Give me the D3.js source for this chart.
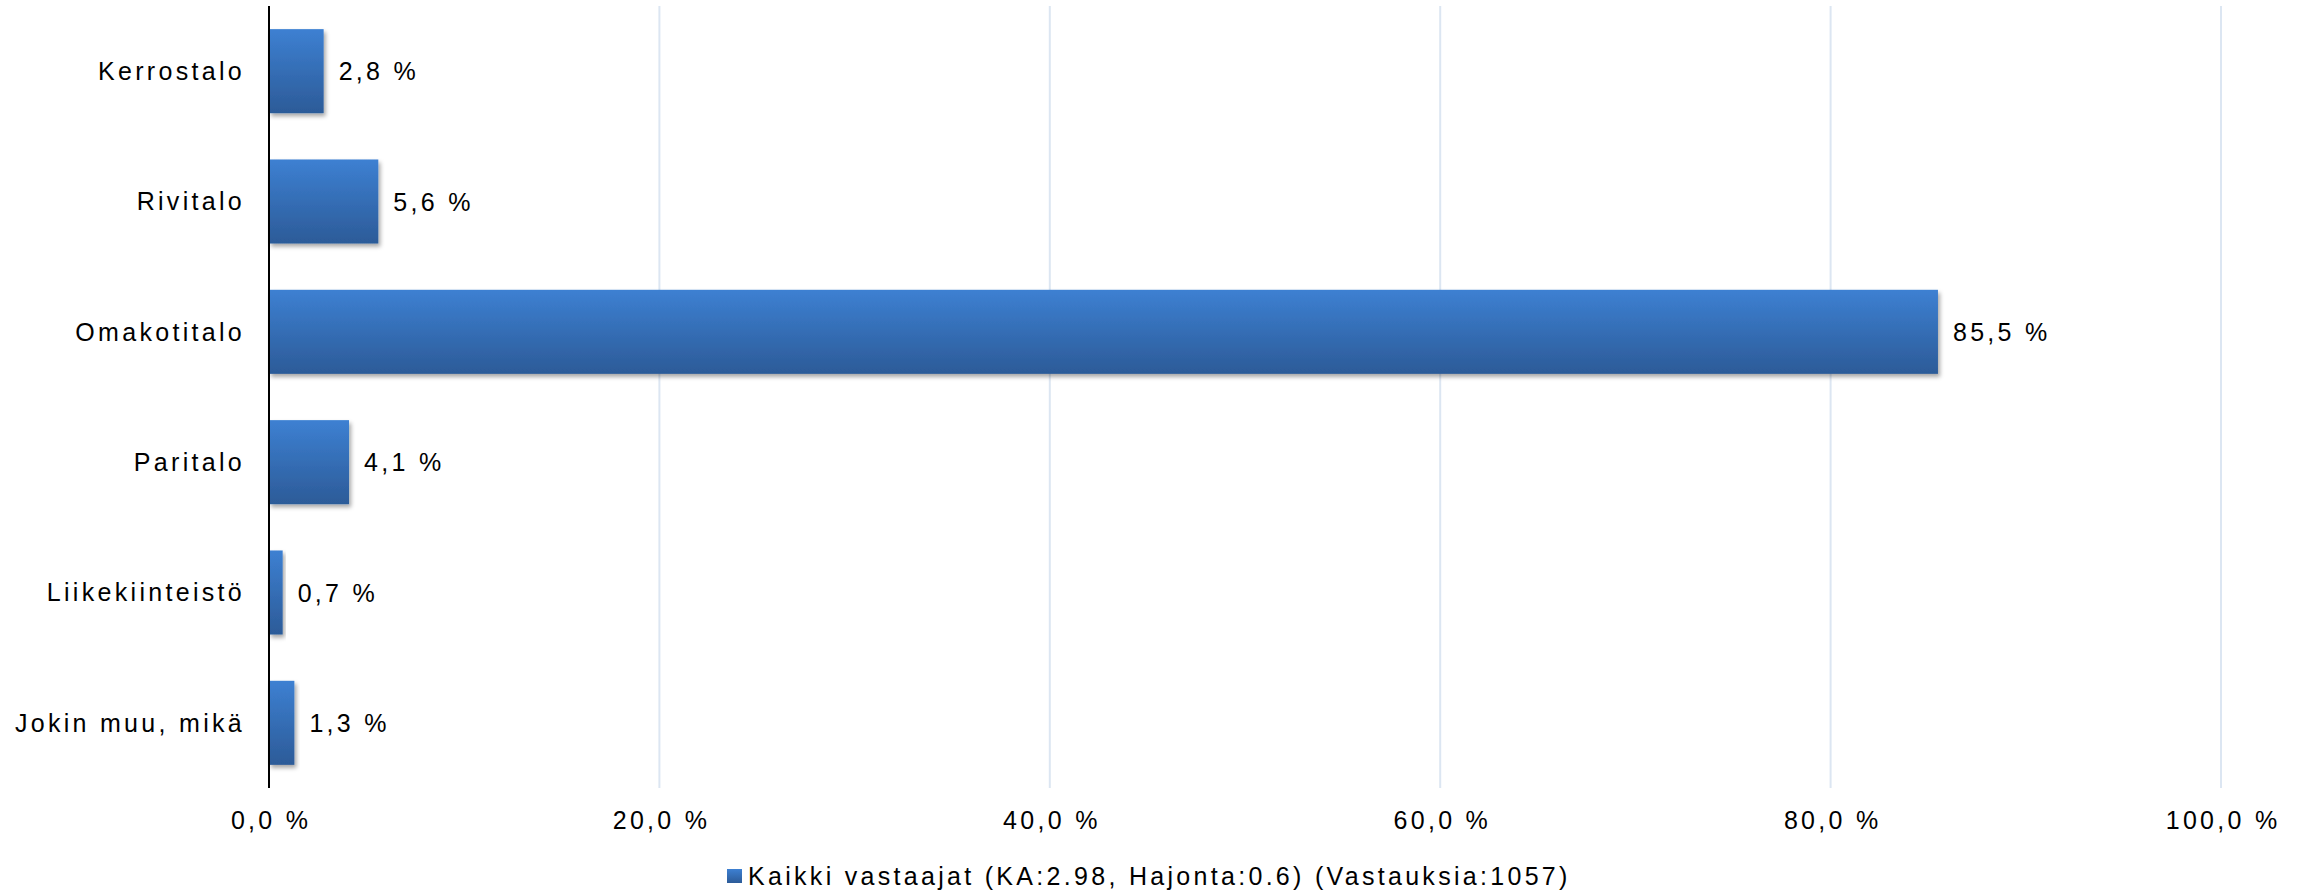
<!DOCTYPE html>
<html>
<head>
<meta charset="utf-8">
<script src="https://cdn.jsdelivr.net/npm/d3@7"></script>
<style>
  html, body { margin: 0; padding: 0; background: #fff; }
  svg { display: block; }
  text { font-family: "Liberation Sans", Arial, sans-serif; fill: #000; }
</style>
</head>
<body>
<svg id="chart" width="2308" height="892"></svg>
<script>
const categories = ["Kerrostalo", "Rivitalo", "Omakotitalo", "Paritalo", "Liikekiinteistö", "Jokin muu, mikä"];
const values = [2.8, 5.6, 85.5, 4.1, 0.7, 1.3];
const tickValues = [0, 20, 40, 60, 80, 100];
const seriesName = "Kaikki vastaajat (KA:2.98, Hajonta:0.6) (Vastauksia:1057)";

(function () {
const fmt = v => v.toFixed(1).replace(".", ",") + " %";

const svg = d3.select("#chart");
const pLeft = 269, pRight = 2221, pTop = 6, pBottom = 788;
const FS = "25px", LS = "3.3px";

const x = d3.scaleLinear().domain([0, 100]).range([pLeft, pRight]);
const y = d3.scaleBand().domain(categories).range([pTop, pBottom]).paddingInner(0.355).paddingOuter(0.1775);

const defs = svg.append("defs");
const grad = defs.append("linearGradient").attr("id", "barGrad").attr("x1", 0).attr("y1", 0).attr("x2", 0).attr("y2", 1);
grad.append("stop").attr("offset", "0%").attr("stop-color", "#3d80d2");
grad.append("stop").attr("offset", "100%").attr("stop-color", "#2c5b98");
const f = defs.append("filter").attr("id", "shadow").attr("x", "-10%").attr("y", "-20%").attr("width", "130%").attr("height", "150%");
f.append("feDropShadow").attr("dx", 2).attr("dy", 3).attr("stdDeviation", 2).attr("flood-color", "#000").attr("flood-opacity", 0.35);

// gridlines
svg.append("g").selectAll("line").data(tickValues.filter(d => d > 0)).join("line")
  .attr("x1", d => x(d)).attr("x2", d => x(d))
  .attr("y1", pTop).attr("y2", pBottom)
  .attr("stroke", "#dce6f2").attr("stroke-width", 2);

// bars
svg.append("g").selectAll("rect").data(categories).join("rect")
  .attr("x", x(0))
  .attr("y", d => y(d))
  .attr("width", (d, i) => x(values[i]) - x(0))
  .attr("height", y.bandwidth())
  .attr("fill", "url(#barGrad)")
  .attr("filter", "url(#shadow)");

// value labels
svg.append("g").selectAll("text").data(categories).join("text")
  .attr("x", (d, i) => x(values[i]) + 15)
  .attr("y", d => y(d) + y.bandwidth() / 2)
  .attr("dominant-baseline", "central")
  .style("font-size", FS).style("letter-spacing", LS)
  .text((d, i) => fmt(values[i]));

// category axis
const yAxis = d3.axisLeft(y).tickSize(0).tickPadding(24);
const gy = svg.append("g").attr("transform", `translate(${pLeft},0)`).call(yAxis);
gy.select(".domain").remove();
gy.attr("font-family", null).attr("font-size", null);
gy.selectAll("text").style("font-size", FS).style("letter-spacing", LS).attr("dy", "0.35em");
svg.append("line").attr("x1", pLeft).attr("x2", pLeft).attr("y1", pTop).attr("y2", pBottom)
  .attr("stroke", "#000").attr("stroke-width", 2);

// x axis
const xAxis = d3.axisBottom(x).tickValues(tickValues).tickSize(0).tickPadding(23).tickFormat(fmt);
const gx = svg.append("g").attr("transform", `translate(0,${pBottom})`).call(xAxis);
gx.select(".domain").remove();
gx.attr("font-family", null).attr("font-size", null);
gx.selectAll("text").style("font-size", FS).style("letter-spacing", LS).attr("dx", "1.6px");

// legend
const lg = svg.append("g");
lg.append("rect").attr("x", 727).attr("y", 869).attr("width", 15).attr("height", 14).attr("fill", "url(#barGrad)");
lg.append("text").attr("x", 748).attr("y", 876).attr("dominant-baseline", "central")
  .style("font-size", FS).style("letter-spacing", LS).text(seriesName);
})();
</script>
</body>
</html>
